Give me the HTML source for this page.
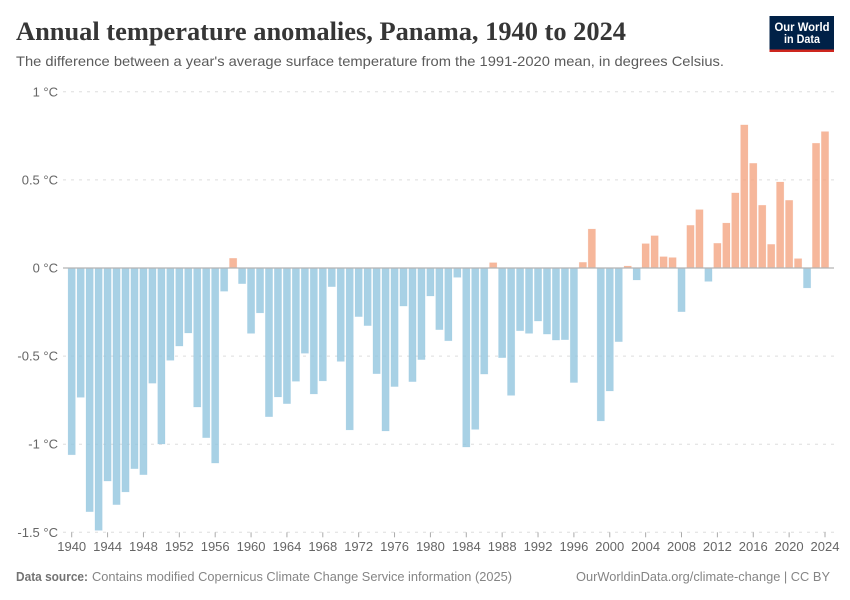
<!DOCTYPE html>
<html lang="en">
<head>
<meta charset="utf-8">
<title>Annual temperature anomalies, Panama, 1940 to 2024</title>
<style>
html,body{margin:0;padding:0;background:#fff;}
svg{display:block;}
text{font-family:"Liberation Sans",sans-serif;}
</style>
</head>
<body>
<svg id="chart" xmlns="http://www.w3.org/2000/svg" width="850" height="600" viewBox="0 0 850 600">
  <rect width="850" height="600" fill="#fff"/>
  <text x="16" y="40" font-size="26" font-weight="700" fill="#363636" textLength="610" lengthAdjust="spacingAndGlyphs" style="font-family:'Liberation Serif',serif">Annual temperature anomalies, Panama, 1940 to 2024</text>
  <text x="16" y="66" font-size="14" fill="#5b5b5b" textLength="708" lengthAdjust="spacingAndGlyphs">The difference between a year's average surface temperature from the 1991-2020 mean, in degrees Celsius.</text>
  <g>
    <rect x="769.5" y="16" width="64.5" height="36" fill="#002147"/>
    <rect x="769.5" y="49.5" width="64.5" height="2.5" fill="#ce261e"/>
    <text x="802" y="31" font-size="12" font-weight="700" fill="#fff" text-anchor="middle" textLength="55" lengthAdjust="spacingAndGlyphs">Our World</text>
    <text x="802" y="43" font-size="12" font-weight="700" fill="#fff" text-anchor="middle" textLength="36" lengthAdjust="spacingAndGlyphs">in Data</text>
  </g>
  <g id="grid"></g>
  <g id="bars"></g>
  <g id="axes"></g>
  <text x="16" y="581" font-size="13" font-weight="700" fill="#5b5b5b" fill-opacity="0.85" textLength="72" lengthAdjust="spacingAndGlyphs">Data source:</text>
  <text x="92" y="581" font-size="13" fill="#858585" textLength="420" lengthAdjust="spacingAndGlyphs">Contains modified Copernicus Climate Change Service information (2025)</text>
  <text x="576" y="581" font-size="13" fill="#858585" textLength="254" lengthAdjust="spacingAndGlyphs">OurWorldinData.org/climate-change | CC BY</text>
</svg>
<script>
const years = [1940,1941,1942,1943,1944,1945,1946,1947,1948,1949,1950,1951,1952,1953,1954,1955,1956,1957,1958,1959,1960,1961,1962,1963,1964,1965,1966,1967,1968,1969,1970,1971,1972,1973,1974,1975,1976,1977,1978,1979,1980,1981,1982,1983,1984,1985,1986,1987,1988,1989,1990,1991,1992,1993,1994,1995,1996,1997,1998,1999,2000,2001,2002,2003,2004,2005,2006,2007,2008,2009,2010,2011,2012,2013,2014,2015,2016,2017,2018,2019,2020,2021,2022,2023,2024];
const anomalies = [-1.06,-0.734,-1.383,-1.489,-1.209,-1.343,-1.271,-1.139,-1.173,-0.654,-0.999,-0.524,-0.443,-0.369,-0.789,-0.963,-1.107,-0.132,0.055,-0.089,-0.371,-0.255,-0.844,-0.732,-0.77,-0.643,-0.484,-0.715,-0.641,-0.106,-0.53,-0.919,-0.276,-0.327,-0.6,-0.925,-0.673,-0.216,-0.645,-0.52,-0.159,-0.35,-0.413,-0.053,-1.016,-0.916,-0.602,0.03,-0.509,-0.723,-0.356,-0.371,-0.301,-0.375,-0.409,-0.407,-0.65,0.032,0.221,-0.868,-0.698,-0.418,0.011,-0.068,0.138,0.183,0.064,0.059,-0.248,0.242,0.331,-0.076,0.14,0.255,0.426,0.812,0.594,0.356,0.134,0.488,0.384,0.053,-0.113,0.708,0.774];
const yTicks = [1,0.5,0,-0.5,-1,-1.5];
const yTickLabels = ["1 °C","0.5 °C","0 °C","-0.5 °C","-1 °C","-1.5 °C"];
const xTicks = [1940,1944,1948,1952,1956,1960,1964,1968,1972,1976,1980,1984,1988,1992,1996,2000,2004,2008,2012,2016,2020,2024];

const NS = "http://www.w3.org/2000/svg";
const plotLeft = 63, plotRight = 834;
const barWidth = 7.3;
function xScale(year){ return 71.7 + (year - 1940) * (825 - 71.7) / 84; }
function yScale(value){ return 268 - value * 176.2; }
function make(tag, attrs, parent){
  const el = document.createElementNS(NS, tag);
  for (const k in attrs) el.setAttribute(k, attrs[k]);
  parent.appendChild(el);
  return el;
}
const gridG = document.getElementById("grid");
const barsG = document.getElementById("bars");
const axesG = document.getElementById("axes");

yTicks.forEach(function(t, i){
  const y = yScale(t);
  if (t !== 0) {
    const line = make("line", {x1:plotLeft, x2:plotRight, y1:y, y2:y, stroke:"#dddddd", "stroke-width":1, "stroke-dasharray":"3,5"}, gridG);
    
    
  }
  const label = make("text", {x:58, y:y + 4.5, "font-size":13, fill:"#666666", "text-anchor":"end"}, axesG);
  label.textContent = yTickLabels[i];
  
  
});

years.forEach(function(year, i){
  const v = anomalies[i];
  const top = Math.min(yScale(v), yScale(0));
  const h = Math.abs(yScale(v) - yScale(0));
  const color = v >= 0 ? "#f4a582" : "#92c5de";
  const bar = make("rect", {x:xScale(year) - barWidth / 2, y:top, width:barWidth, height:h, fill:color, "fill-opacity":0.8, stroke:color, "stroke-opacity":0.25, "stroke-width":0.6}, barsG);
  
  
});

const zeroLine = make("line", {x1:plotLeft, x2:plotRight, y1:yScale(0), y2:yScale(0), stroke:"#b4b4b4", "stroke-width":1.2}, axesG);



xTicks.forEach(function(year){
  const x = xScale(year);
  const tick = make("line", {x1:x, x2:x, y1:yScale(-1.5), y2:yScale(-1.5) + 5, stroke:"#aaaaaa", "stroke-width":1}, axesG);
  
  
  const label = make("text", {x:x, y:551, "font-size":13, fill:"#666666", "text-anchor":"middle"}, axesG);
  label.textContent = String(year);
  
  
});
</script>
</body>
</html>
